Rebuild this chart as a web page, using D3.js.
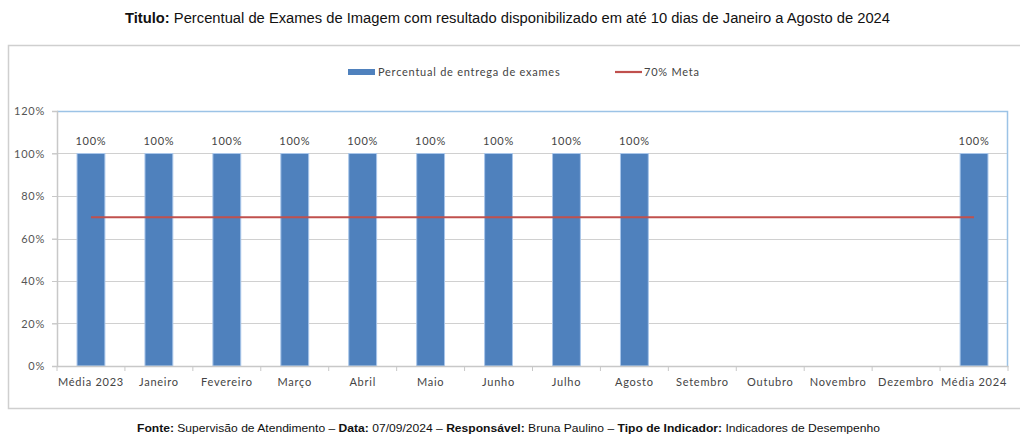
<!DOCTYPE html>
<html>
<head>
<meta charset="utf-8">
<script src="https://cdn.jsdelivr.net/npm/d3@7"></script>
<style>
  body { margin: 0; background: #fff; }
  svg { display: block; }
</style>
</head>
<body>
<div id="chart"></div>
<script>
// dados do grafico
var categorias = ["Média 2023", "Janeiro", "Fevereiro", "Março", "Abril", "Maio", "Junho",
                  "Julho", "Agosto", "Setembro", "Outubro", "Novembro", "Dezembro", "Média 2024"];
var percentual = [1, 1, 1, 1, 1, 1, 1, 1, 1, null, null, null, null, 1];
var meta = 0.7;
var yTicks = [0, 0.2, 0.4, 0.6, 0.8, 1.0, 1.2];

var W = 1020, H = 436;
var margin = { left: 57, right: 12, top: 111, bottom: 70 };
var plotW = 1008 - margin.left, plotH = 366 - margin.top;

var azul = "#4F81BD", vermelho = "#C0504D";
var fonteChart = "Lato, 'Open Sans', sans-serif";
var fonteTitulo = "'Liberation Sans', Arial, sans-serif";
var espaco = "0.75px";

var svg = d3.select("#chart").append("svg").attr("width", W).attr("height", H);

// moldura
svg.append("rect").attr("x", 8.5).attr("y", 45.5).attr("width", 1030).attr("height", 363)
   .attr("fill", "none").attr("stroke", "#cfcfcf").attr("stroke-width", 1.5);

var x = d3.scaleBand().domain(categorias).range([0, plotW]).paddingInner(0.59).paddingOuter(0.295);
var y = d3.scaleLinear().domain([0, 1.2]).range([plotH, 0]);

var g = svg.append("g").attr("transform", "translate(" + margin.left + "," + margin.top + ")");

// grade
g.selectAll(".grid").data(yTicks.slice(1)).enter().append("line")
  .attr("x1", -5).attr("x2", plotW)
  .attr("y1", function(d){ return Math.round(y(d)) + 0.5; })
  .attr("y2", function(d){ return Math.round(y(d)) + 0.5; })
  .attr("stroke", "#d0d0d0").attr("stroke-width", 1);

// borda da area do grafico (topo e direita)
g.append("path").attr("d", "M0,0.5H" + (plotW - 0.5) + "V" + plotH)
  .attr("fill", "none").attr("stroke", "#9cc3e6").attr("stroke-width", 1.5);

// eixo y
var yAxis = g.append("g").call(d3.axisLeft(y).tickValues(yTicks).tickFormat(d3.format(".0%")).tickSize(5).tickPadding(7));
yAxis.select(".domain").attr("stroke", "#c8c8c8").attr("stroke-width", 1.5);
yAxis.selectAll(".tick line").attr("stroke", "#c8c8c8");
yAxis.selectAll("text").attr("font-family", fonteChart).attr("font-size", 11)
  .attr("letter-spacing", espaco).attr("fill", "#555");

// barras
var dados = categorias.map(function(c, i){ return { cat: c, v: percentual[i] }; })
  .filter(function(d){ return d.v != null; });

g.selectAll(".bar").data(dados).enter().append("rect")
  .attr("x", function(d){ return x(d.cat); })
  .attr("y", function(d){ return y(d.v); })
  .attr("width", x.bandwidth())
  .attr("height", function(d){ return plotH - y(d.v); })
  .attr("fill", azul).attr("stroke", "#a9c6ea").attr("stroke-width", 1);

g.selectAll(".lbl").data(dados).enter().append("text")
  .attr("x", function(d){ return x(d.cat) + x.bandwidth() / 2; })
  .attr("y", function(d){ return y(d.v) - 9; })
  .attr("text-anchor", "middle").attr("font-family", fonteChart).attr("font-size", 11)
  .attr("letter-spacing", espaco).attr("fill", "#444")
  .text(function(d){ return d3.format(".0%")(d.v); });

// linha da meta
var linha = d3.line().x(function(d){ return x(d) + x.bandwidth() / 2; }).y(function(){ return y(meta); });
g.append("path").datum(categorias).attr("d", linha)
  .attr("fill", "none").attr("stroke", vermelho).attr("stroke-width", 2.2);

// eixo x
var xStep = x.step();
var xAxis = g.append("g").attr("transform", "translate(0," + plotH + ")")
  .call(d3.axisBottom(x).tickSize(0).tickPadding(12));
xAxis.select(".domain").attr("stroke", "#c8c8c8").attr("stroke-width", 1.5);
xAxis.selectAll("text").attr("font-family", fonteChart).attr("font-size", 11)
  .attr("letter-spacing", espaco).attr("fill", "#444");
g.selectAll(".xtick").data(d3.range(categorias.length + 1)).enter().append("line")
  .attr("x1", function(i){ return i * xStep; }).attr("x2", function(i){ return i * xStep; })
  .attr("y1", plotH).attr("y2", plotH + 5).attr("stroke", "#c8c8c8");

// legenda
var leg = svg.append("g").attr("font-family", fonteChart).attr("font-size", 11)
  .attr("letter-spacing", espaco).attr("fill", "#444");
leg.append("rect").attr("x", 348).attr("y", 69).attr("width", 27).attr("height", 6).attr("fill", azul);
leg.append("text").attr("x", 378).attr("y", 76).text("Percentual de entrega de exames");
leg.append("line").attr("x1", 615).attr("x2", 642).attr("y1", 72).attr("y2", 72)
  .attr("stroke", vermelho).attr("stroke-width", 2.2);
leg.append("text").attr("x", 644).attr("y", 76).text("70% Meta");

// titulo
var t = svg.append("text").attr("x", 507.5).attr("y", 23).attr("text-anchor", "middle")
  .attr("font-family", fonteTitulo).attr("font-size", 14).attr("fill", "#111")
  .attr("textLength", 765).attr("lengthAdjust", "spacingAndGlyphs");
t.append("tspan").attr("font-weight", "bold").text("Titulo:");
t.append("tspan").text(" Percentual de Exames de Imagem com resultado disponibilizado em até 10 dias de Janeiro a Agosto de 2024");

// rodape
var f = svg.append("text").attr("x", 508.5).attr("y", 432).attr("text-anchor", "middle")
  .attr("font-family", fonteTitulo).attr("font-size", 11.5).attr("fill", "#111")
  .attr("textLength", 743).attr("lengthAdjust", "spacingAndGlyphs");
var partes = [["Fonte:", " Supervisão de Atendimento – "], ["Data:", " 07/09/2024 – "],
              ["Responsável:", " Bruna Paulino – "], ["Tipo de Indicador:", " Indicadores de Desempenho"]];
partes.forEach(function(p){
  f.append("tspan").attr("font-weight", "bold").text(p[0]);
  f.append("tspan").text(p[1]);
});
</script>
</body>
</html>
